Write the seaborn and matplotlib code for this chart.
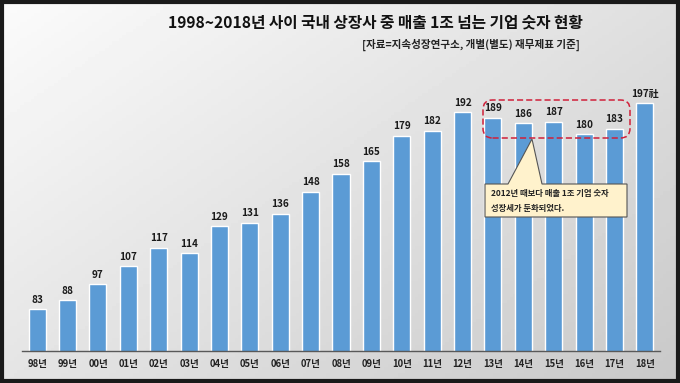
import numpy as np
import matplotlib.pyplot as plt
import seaborn as sns
import pandas as pd
from matplotlib.patches import FancyBboxPatch, Rectangle, Polygon

years = ['98년', '99년', '00년', '01년', '02년', '03년', '04년', '05년', '06년', '07년',
         '08년', '09년', '10년', '11년', '12년', '13년', '14년', '15년', '16년', '17년', '18년']
counts = [83, 88, 97, 107, 117, 114, 129, 131, 136, 148,
          158, 165, 179, 182, 192, 189, 186, 187, 180, 183, 197]
value_labels = [str(c) for c in counts[:-1]] + ['197社']

title = '1998~2018년 사이 국내 상장사 중 매출 1조 넘는 기업 숫자 현황'
source = '[자료=지속성장연구소, 개별(별도) 재무제표 기준]'
note = '2012년 때보다 매출 1조 기업 숫자\n성장세가 둔화되었다.'

df = pd.DataFrame({'year': years, 'count': counts})

sns.set_theme(style='white')
plt.rcParams['font.family'] = ['Noto Sans CJK KR', 'DejaVu Sans']

W, H = 680, 383
fig = plt.figure(figsize=(6.8, 3.83), dpi=100)


def px(x, y):
    # pixel position (from top-left) -> figure fraction
    return (x / W, (H - y) / H)


# gradient background
bg = fig.add_axes([0, 0, 1, 1], zorder=-10)
gx, gy = np.meshgrid(np.linspace(0, 1, 200), np.linspace(0, 1, 120))
grad = 0.985 - 0.20 * (0.55 * gx + 0.45 * gy)
bg.imshow(grad, cmap='gray', vmin=0, vmax=1, aspect='auto', extent=[0, 1, 1, 0])
bg.set_axis_off()

# outer dark frame
fig.patches.append(Rectangle((0.003, 0.004), 0.994, 0.992, transform=fig.transFigure,
                             fill=False, ec='#1a1a1a', lw=3))

ax = fig.add_axes([22 / W, (H - 351) / H, 638 / W, 290 / H])
ax.patch.set_alpha(0)
sns.barplot(data=df, x='year', y='count', color='#5B9BD5', width=0.56,
            saturation=1, ax=ax)
ax.set_ylim(60, 220.5)
ax.set_xlim(-0.5, len(years) - 0.5)
ax.set_xlabel('')
ax.set_ylabel('')
ax.set_yticks([])
for s in ['left', 'right', 'top']:
    ax.spines[s].set_visible(False)
ax.spines['bottom'].set_color('#595959')
ax.spines['bottom'].set_linewidth(1.0)
ax.tick_params(axis='x', length=0, pad=6, labelsize=6.8)
for t in ax.get_xticklabels():
    t.set_fontweight('bold')
    t.set_color('#222222')

for i, (c, lab) in enumerate(zip(counts, value_labels)):
    ax.text(i, c + 2.5, lab, ha='center', va='bottom', fontsize=7.2,
            fontweight='bold', color='#1a1a1a')

fig.text(0.552, 0.942, title, ha='center', va='center', fontsize=11.3,
         fontweight='bold', color='#111111')
fig.text(0.853, 0.882, source, ha='right', va='center', fontsize=7.6,
         fontweight='bold', color='#222222')

# dashed highlight around 13~17년
fig.patches.append(FancyBboxPatch(px(483, 138), 147 / W, 38 / H,
                                  boxstyle='round,pad=0,rounding_size=0.014',
                                  mutation_aspect=W / H,
                                  transform=fig.transFigure, fill=False,
                                  ec='#d0203a', lw=1.1, ls=(0, (4, 2))))

# callout box with pointer
callout = [px(485, 184), px(508, 184), px(532, 139), px(542, 184), px(627, 184),
           px(627, 217), px(485, 217)]
fig.patches.append(Polygon(callout, closed=True, transform=fig.transFigure,
                           fc='#FFF2CC', ec='#555555', lw=0.8))
fig.text(*px(491, 201), note, ha='left', va='center', fontsize=6,
         fontweight='bold', color='#222222', linespacing=1.9)

fig.savefig('out.png', dpi=100)
